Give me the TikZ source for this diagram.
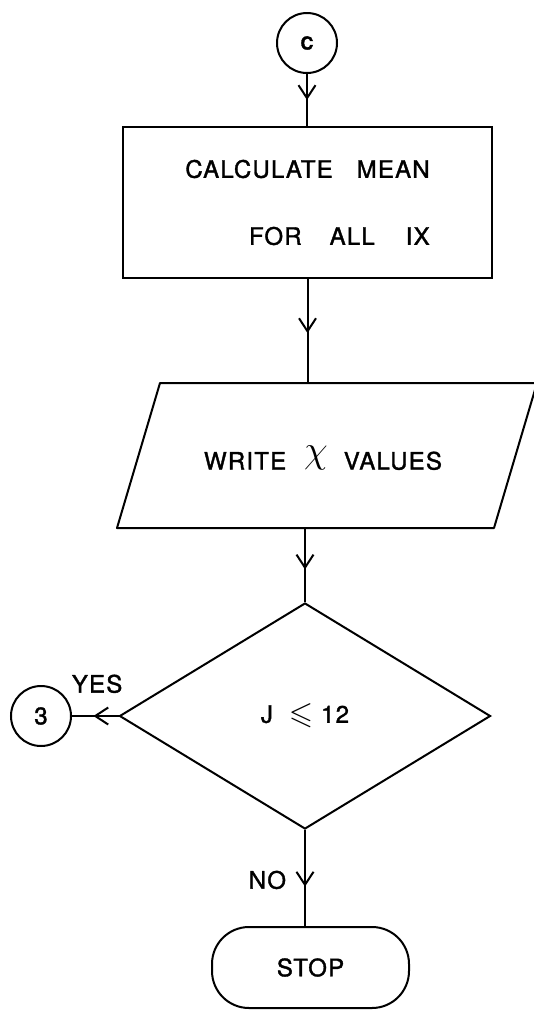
\documentclass[tikz,border=0pt]{standalone}
\usepackage{fontspec}
\setmainfont{TeX Gyre Heros}[FakeBold=1.5, LetterSpace=5]
\usepackage{amssymb}
\usepackage{graphicx}
\usetikzlibrary{shapes.geometric, arrows.meta, decorations.markings}
\tikzset{
  flow/.style={draw, line width=2pt},
  lbl/.style={font=\fontsize{24}{29}\selectfont, inner sep=0pt},
  conn/.style={draw, line width=2pt},
  midarrow/.style={decoration={markings, mark=at position #1 with {\arrow{Straight Barb[length=13pt,width=17pt]}}}, postaction={decorate}},
}
\begin{document}
\begin{tikzpicture}[x=1pt,y=-1pt]
\useasboundingbox (0,0) rectangle (534,1010);

\node[circle, flow, minimum size=60pt, inner sep=0pt, font=\bfseries\fontsize{18}{20}\selectfont] (c) at (307,43) {C};

\node[rectangle, flow, minimum width=369pt, minimum height=151pt, align=right, lbl] (calc) at (307.5,202.5)
  {CALCULATE\hspace{24pt}MEAN\\[38pt]FOR\hspace{28pt}ALL\hspace{31pt}IX};

% parallelogram (input/output)
\coordinate (pbl) at (117,528);
\coordinate (pbr) at (494,528);
\coordinate (ptr) at (537,383);
\coordinate (ptl) at (160,383);
\draw[flow, line join=round] (pbl) -- (pbr) -- (ptr) -- (ptl) -- cycle;
\node[lbl] (write) at (323,458)
  {WRITE\hspace{18pt}\raisebox{7pt}{\scalebox{1.55}{$\chi$}}\hspace{16pt}VALUES};

\node[diamond, flow, minimum width=371pt, minimum height=226pt, inner sep=0pt, lbl] (dec) at (305,716)
  {J\hspace{16pt}\raisebox{-1pt}{\scalebox{1.3}{$\leqslant$}}\hspace{8pt}12};

\node[circle, flow, minimum size=60pt, inner sep=0pt, lbl] (three) at (41,716) {3};

\node[rectangle, rounded corners=37pt, flow, minimum width=197pt, minimum height=81pt, lbl] (stop) at (310.5,967.5) {STOP};

\draw[conn, midarrow=0.5] (c.south) -- (c.south |- calc.north);
\draw[conn, midarrow=0.52] (calc.south) -- (calc.south |- ptl);
\draw[conn, midarrow=0.56] (dec.north |- pbl) -- (dec.north);
\draw[conn, midarrow=0.54] (dec.west) -- (three.east) node[pos=0.46, above=22pt, lbl] {YES};
\draw[conn, midarrow=0.59] (dec.south) -- (dec.south |- stop.north) node[pos=0.52, left=18pt, lbl] {NO};
\end{tikzpicture}
\end{document}
